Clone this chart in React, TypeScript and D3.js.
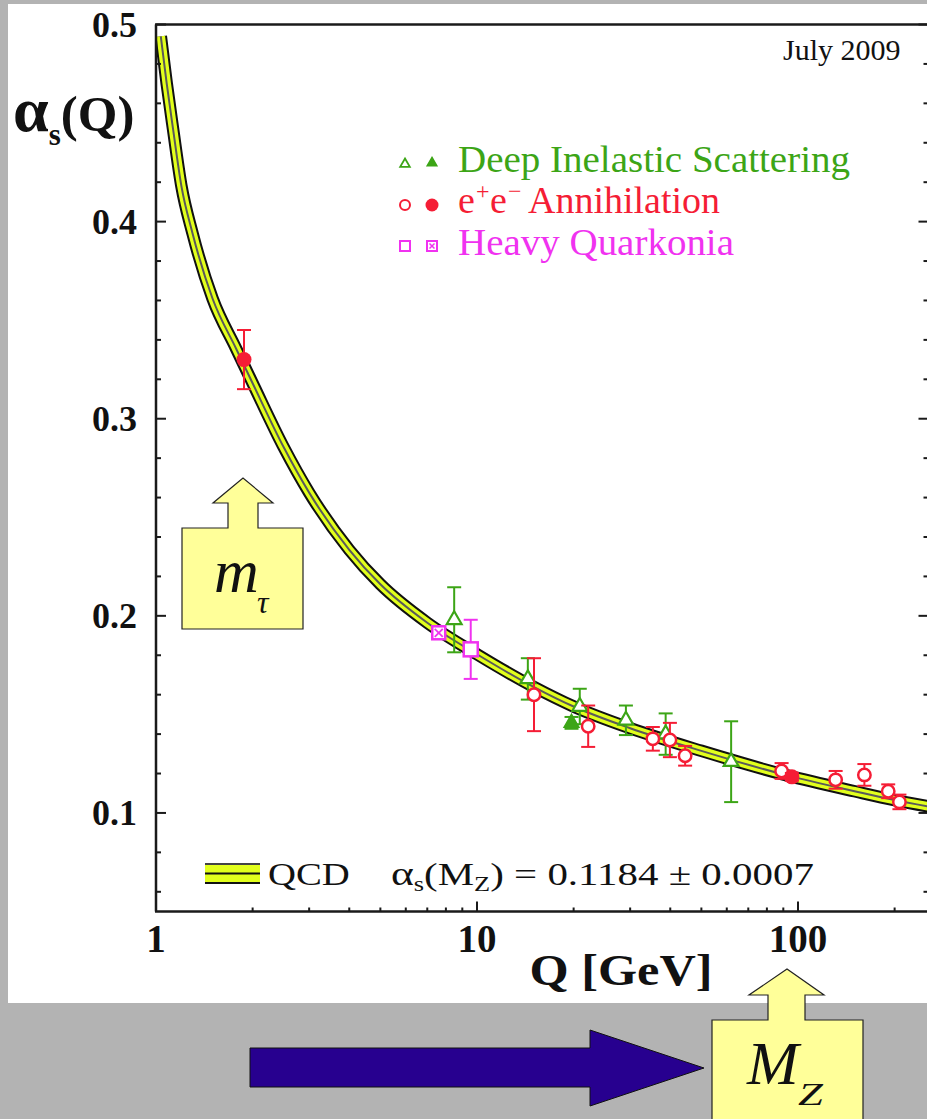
import React from 'react';
import * as d3 from 'd3';

const W = 927;
const H = 1119;

// running coupling band (centre line)
const curveQ = [1.035, 1.08, 1.13, 1.2, 1.3, 1.5, 1.777, 2.0, 2.5, 3.0, 4.0, 5.0, 7.0, 10, 15, 20, 30, 50, 91.2, 150, 200, 255];
const curveAlpha = [0.494, 0.47, 0.447, 0.418, 0.394, 0.361, 0.3355, 0.318, 0.2855, 0.2625, 0.2335, 0.216, 0.1965, 0.1805, 0.164, 0.154, 0.143, 0.1315, 0.1193, 0.111, 0.1065, 0.1033];

// Deep Inelastic Scattering
const disOpenQ = [8.49, 14.4, 20.9, 29.1, 38.7, 61.9];
const disOpenA = [0.198, 0.168, 0.154, 0.147, 0.14, 0.126];
const disOpenErr = [0.0165, 0.0105, 0.009, 0.0075, 0.0105, 0.0205];
const disFullQ = [19.7];
const disFullA = [0.1457];
const disFullErr = [0.003];

// e+e- Annihilation
const eeOpenQ = [15.05, 22.2, 35.3, 39.9, 44.5, 88.9, 131, 161, 191, 207];
const eeOpenA = [0.16, 0.144, 0.1376, 0.137, 0.129, 0.1213, 0.1168, 0.1193, 0.111, 0.1056];
const eeOpenErr = [0.0185, 0.0105, 0.006, 0.0087, 0.005, 0.004, 0.0045, 0.0055, 0.0035, 0.0037];
const eeFullQ = [1.88, 95.7];
const eeFullA = [0.33, 0.1183];
const eeFullErr = [0.015, 0.002];

// Heavy Quarkonia
const hqOpenQ = [9.56];
const hqOpenA = [0.183];
const hqOpenErr = [0.015];
const hqCrossQ = [7.6];
const hqCrossA = [0.1914];
const hqCrossErr = [0.002];

const yMajor = [0.1, 0.2, 0.3, 0.4, 0.5];
const yLabels = ['0.1', '0.2', '0.3', '0.4', '0.5'];
const xMajor = [1, 10, 100];
const xLabels = ['1', '10', '100'];

const GREEN = '#3ca516';
const RED = '#f51d35';
const MAGENTA = '#f032f0';
const YELLOW = '#e2ff1c';
const SERIF = '"Liberation Serif", "Times New Roman", serif';

const x = d3.scaleLog().domain([1, 255]).range([156, 928.5]);
const y = d3.scaleLinear().domain([0.05, 0.5]).range([911.5, 24.5]);

const zip = (qs: number[], as: number[], es: number[]) =>
  qs.map((q, i) => ({ q, a: as[i], e: es[i] }));

const ErrBar = ({ d, color }: { d: { q: number; a: number; e: number }; color: string }) => {
  const cx = x(d.q);
  const y1 = y(d.a + d.e);
  const y2 = y(d.a - d.e);
  return (
    <g stroke={color} strokeWidth={2}>
      <line x1={cx} x2={cx} y1={y1} y2={y2} />
      <line x1={cx - 7} x2={cx + 7} y1={y1} y2={y1} />
      <line x1={cx - 7} x2={cx + 7} y1={y2} y2={y2} />
    </g>
  );
};

const tri = d3.symbol(d3.symbolTriangle, 95)()!;
const triSmall = d3.symbol(d3.symbolTriangle, 40)()!;

export default function App() {
  const line = d3
    .line<number>()
    .x((_, i) => x(curveQ[i]))
    .y((a) => y(a))
    .curve(d3.curveMonotoneX);
  const bandPath = line(curveAlpha) || '';

  const yMinor = d3.range(0.06, 0.5, 0.02).filter((v) => yMajor.every((m) => Math.abs(m - v) > 1e-6));
  const xMinor = x.ticks().filter((v) => !xMajor.includes(v));

  const left = 156;
  const right = 928.5;
  const top = 24.5;
  const bottom = 911.5;

  return (
    <svg
      width={W}
      height={H}
      style={{ position: 'absolute', left: 0, top: 0, display: 'block' }}
      fontFamily={SERIF}
    >
      <defs>
        <clipPath id="frame">
          <rect x={left} y={top} width={right - left} height={bottom - top} />
        </clipPath>
      </defs>
      <rect x={0} y={0} width={W} height={H} fill="#b3b3b3" />
      <rect x={8} y={4} width={W - 8} height={999} fill="#ffffff" />

      {/* band */}
      <g clipPath="url(#frame)" fill="none">
        <path d={bandPath} stroke="#111" strokeWidth={12.5} />
        <path d={bandPath} stroke={YELLOW} strokeWidth={8.5} />
        <path d={bandPath} stroke="#5a5a5a" strokeWidth={2} />
      </g>

      {/* frame */}
      <g stroke="#1a1a1a" strokeWidth={2.5} fill="none">
        <line x1={left} x2={left} y1={top} y2={bottom} />
        <line x1={right} x2={right} y1={top} y2={bottom} />
        <line x1={left - 1} x2={right} y1={top} y2={top} />
        <line x1={left - 1} x2={right} y1={bottom} y2={bottom} />
      </g>
      <g stroke="#1a1a1a" strokeWidth={2}>
        {yMajor.map((v) => (
          <g key={'ym' + v}>
            <line x1={left} x2={left + 10} y1={y(v)} y2={y(v)} />
            <line x1={right} x2={right - 10} y1={y(v)} y2={y(v)} />
          </g>
        ))}
        {yMinor.map((v) => (
          <g key={'yn' + v}>
            <line x1={left} x2={left + 5} y1={y(v)} y2={y(v)} />
            <line x1={right} x2={right - 5} y1={y(v)} y2={y(v)} />
          </g>
        ))}
        {xMajor.map((v) => (
          <line key={'xm' + v} x1={x(v)} x2={x(v)} y1={bottom} y2={bottom - 10} />
        ))}
        {xMinor.map((v) => (
          <line key={'xn' + v} x1={x(v)} x2={x(v)} y1={bottom} y2={bottom - 4} />
        ))}
      </g>

      {/* tick labels */}
      <g fontWeight="bold" fontSize={36} fill="#111">
        {yMajor.map((v, i) => (
          <text key={'yl' + v} x={137} y={y(v) + 12} textAnchor="end">
            {yLabels[i]}
          </text>
        ))}
      </g>
      <g fontWeight="bold" fontSize={39} fill="#111">
        {xMajor.map((v, i) => (
          <text key={'xl' + v} x={x(v)} y={952} textAnchor="middle">
            {xLabels[i]}
          </text>
        ))}
      </g>
      <text x={621} y={985} fontWeight="bold" fontSize={45} textAnchor="middle" textLength={183} lengthAdjust="spacingAndGlyphs" fill="#111">
        Q [GeV]
      </text>
      <text x={13} y={131} fontWeight="bold" fill="#111">
        <tspan fontSize={64}>α</tspan>
        <tspan fontSize={31} dy={14}>s</tspan>
        <tspan fontSize={51} dy={-14}>(Q)</tspan>
      </text>
      <text x={783} y={60} fontSize={30} fill="#111">July 2009</text>

      {/* data: DIS */}
      {zip(disOpenQ, disOpenA, disOpenErr).map((d, i) => (
        <g key={'do' + i}>
          <ErrBar d={d} color={GREEN} />
          <path d={tri} transform={`translate(${x(d.q)},${y(d.a)})`} fill="#fff" stroke={GREEN} strokeWidth={2.2} />
        </g>
      ))}
      {zip(disFullQ, disFullA, disFullErr).map((d, i) => (
        <g key={'df' + i}>
          <ErrBar d={d} color={GREEN} />
          <path d={tri} transform={`translate(${x(d.q)},${y(d.a)})`} fill={GREEN} stroke={GREEN} strokeWidth={1.5} />
        </g>
      ))}
      {/* data: e+e- */}
      {zip(eeOpenQ, eeOpenA, eeOpenErr).map((d, i) => (
        <g key={'eo' + i}>
          <ErrBar d={d} color={RED} />
          <circle cx={x(d.q)} cy={y(d.a)} r={6.2} fill="#fff" stroke={RED} strokeWidth={2.5} />
        </g>
      ))}
      {zip(eeFullQ, eeFullA, eeFullErr).map((d, i) => (
        <g key={'ef' + i}>
          <ErrBar d={d} color={RED} />
          <circle cx={x(d.q)} cy={y(d.a)} r={7.5} fill={RED} />
        </g>
      ))}
      {/* data: heavy quarkonia */}
      {zip(hqOpenQ, hqOpenA, hqOpenErr).map((d, i) => (
        <g key={'ho' + i}>
          <ErrBar d={d} color={MAGENTA} />
          <rect x={x(d.q) - 7} y={y(d.a) - 7} width={14} height={14} fill="#fff" stroke={MAGENTA} strokeWidth={2.5} />
        </g>
      ))}
      {zip(hqCrossQ, hqCrossA, hqCrossErr).map((d, i) => {
        const cx = x(d.q);
        const cy = y(d.a);
        return (
          <g key={'hc' + i} stroke={MAGENTA} strokeWidth={2.5} fill="#fff">
            <ErrBar d={d} color={MAGENTA} />
            <rect x={cx - 6.5} y={cy - 6.5} width={13} height={13} />
            <line x1={cx - 4} x2={cx + 4} y1={cy - 4} y2={cy + 4} strokeWidth={1.8} />
            <line x1={cx - 4} x2={cx + 4} y1={cy + 4} y2={cy - 4} strokeWidth={1.8} />
          </g>
        );
      })}

      {/* legend */}
      <g>
        <path d={triSmall} transform="translate(405,164)" fill="#fff" stroke={GREEN} strokeWidth={1.8} />
        <path d={triSmall} transform="translate(432,163)" fill={GREEN} stroke={GREEN} strokeWidth={1.5} />
        <text x={458} y={172} fontSize={38} fill={GREEN} textLength={392} lengthAdjust="spacingAndGlyphs">
          Deep Inelastic Scattering
        </text>

        <circle cx={405} cy={205} r={5} fill="#fff" stroke={RED} strokeWidth={2} />
        <circle cx={432} cy={205} r={6.5} fill={RED} />
        <text x={458} y={213} fontSize={38} fill={RED}>e</text>
        <text x={476} y={199} fontSize={24} fill={RED}>+</text>
        <text x={490} y={213} fontSize={38} fill={RED}>e</text>
        <text x={508} y={199} fontSize={24} fill={RED}>−</text>
        <text x={528} y={213} fontSize={38} fill={RED}>Annihilation</text>

        <rect x={400} y={241} width={10} height={10} fill="#fff" stroke={MAGENTA} strokeWidth={2} />
        <rect x={427} y={241} width={10} height={10} fill="#fff" stroke={MAGENTA} strokeWidth={2} />
        <line x1={429.5} x2={434.5} y1={243.5} y2={248.5} stroke={MAGENTA} strokeWidth={1.5} />
        <line x1={429.5} x2={434.5} y1={248.5} y2={243.5} stroke={MAGENTA} strokeWidth={1.5} />
        <text x={458} y={255} fontSize={38} fill={MAGENTA} textLength={276} lengthAdjust="spacingAndGlyphs">
          Heavy Quarkonia
        </text>
      </g>

      {/* QCD legend */}
      <g>
        <rect x={205} y={864} width={55} height={19} fill={YELLOW} />
        <g stroke="#111" strokeWidth={2}>
          <line x1={205} x2={260} y1={864} y2={864} stroke="#444" />
          <line x1={205} x2={260} y1={873.5} y2={873.5} />
          <line x1={205} x2={260} y1={883} y2={883} />
        </g>
        <g transform="translate(268,885) scale(1.25,1)">
          <text x={0} y={0} fontSize={31} fill="#111">QCD</text>
        </g>
        <g transform="translate(391,885) scale(1.32,1)">
          <text x={0} y={0} fontSize={31} fill="#111">
            <tspan fontSize={33}>α</tspan>
            <tspan fontSize={20} dy={6}>s</tspan>
            <tspan dy={-6}>(M</tspan>
            <tspan fontSize={20} dy={6}>Z</tspan>
            <tspan dy={-6}>) = 0.1184 ± 0.0007</tspan>
          </text>
        </g>
      </g>

      {/* m_tau marker */}
      <path
        d="M182,528 L228,528 L228,503 L213,503 L243,478 L273,503 L258,503 L258,528 L303,528 L303,629 L182,629 Z"
        fill="#ffff99"
        stroke="#222"
        strokeWidth={1.2}
      />
      <text x={214} y={592} fontSize={62} fontStyle="italic" fill="#111">m</text>
      <text x={257} y={613} fontSize={32} fontStyle="italic" fill="#111">τ</text>

      {/* blue arrow */}
      <path
        d="M250,1048 L590,1048 L590,1030 L704,1068 L590,1106 L590,1087 L250,1087 Z"
        fill="#27008f"
        stroke="#111"
        strokeWidth={1}
      />

      {/* M_Z marker */}
      <path
        d="M712,1020 L768,1020 L768,995 L749,995 L787,969 L824,995 L805,995 L805,1020 L863,1020 L863,1130 L712,1130 Z"
        fill="#ffff99"
        stroke="#222"
        strokeWidth={1.2}
      />
      <text x={747} y={1084} fontSize={62} fontStyle="italic" fill="#111">M</text>
      <g transform="translate(798,1105) scale(1.4,1)">
        <text x={0} y={0} fontSize={32} fontStyle="italic" fill="#111">Z</text>
      </g>
    </svg>
  );
}
